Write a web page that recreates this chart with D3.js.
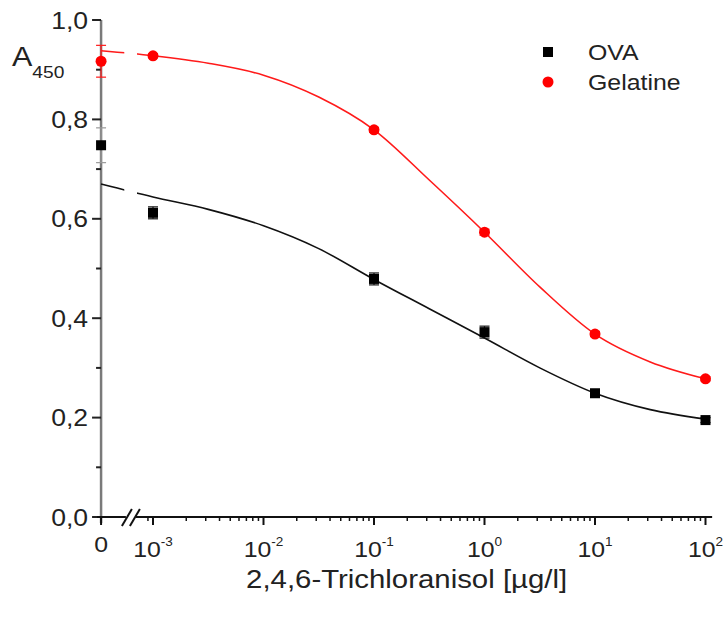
<!DOCTYPE html>
<html><head><meta charset="utf-8">
<script src="https://cdn.jsdelivr.net/npm/d3@7/dist/d3.min.js"></script>
<style>body{margin:0;background:#fff}svg{display:block}text{font-family:"Liberation Sans",Arial,sans-serif;fill:#222}</style>
</head><body><svg id="c" width="726" height="617"></svg>
<script>
// ---- data ----
const concentrations = [0, 1e-3, 1e-1, 1, 10, 100];
const ovaValues = [0.748, 0.612, 0.479, 0.372, 0.249, 0.195];
const ovaErrors = [0.035, 0.012, 0.012, 0.012, 0.005, 0.005];
const gelValues = [0.917, 0.928, 0.779, 0.573, 0.368, 0.278];
const gelErrors = [0.032, 0.004, 0.005, 0.006, 0.005, 0.004];
// fitted curves: [log10 concentration, A450]
const ovaFit = [[-3.47,0.670],[-3,0.644],[-2.5,0.619],[-2,0.586],[-1.5,0.540],[-1,0.478],[-0.5,0.419],[0,0.360],[0.5,0.300],[1,0.249],[1.5,0.216],[2,0.197]];
const gelFit = [[-3.47,0.938],[-3,0.928],[-2.5,0.913],[-2,0.889],[-1.5,0.845],[-1,0.779],[-0.5,0.678],[0,0.573],[0.5,0.463],[1,0.368],[1.5,0.312],[2,0.278]];
const xTickExponents = [-3, -2, -1, 0, 1, 2];
const yTicks = [0, 0.2, 0.4, 0.6, 0.8, 1.0];
const yMinorTicks = [0.1, 0.3, 0.5, 0.7, 0.9];
const seriesNames = ["OVA", "Gelatine"];

const zeroLog = -3.47, breakLog = -3.2, endLog = 2.06, gapLo = -3.26, gapHi = -3.145;
const SX = 1.13; // glyphs in the reference are slightly wide

const svg = d3.select("#c");
const x = d3.scaleLog().domain([1e-3, 1e2]).range([153, 705.5]);
const y = d3.scaleLinear().domain([0, 1]).range([517, 20]);
const xp = v => v === 0 ? x(Math.pow(10, zeroLog)) : x(v);
const x0 = xp(0), xEnd = x(Math.pow(10, endLog));

function label(px, py, size, anchor) {
  return svg.append("g").attr("transform", `translate(${px},${py}) scale(${SX},1)`)
    .append("text").attr("text-anchor", anchor || "start").attr("font-size", size);
}

// y axis
svg.append("line").attr("x1", x0).attr("x2", x0).attr("y1", y(1)).attr("y2", y(0) + 6)
  .attr("stroke", "#7a7a7a").attr("stroke-width", 2.5);
yTicks.forEach(t => {
  svg.append("line").attr("x1", x0 - 9).attr("x2", x0).attr("y1", y(t)).attr("y2", y(t)).attr("stroke", "#222").attr("stroke-width", 2);
  label(x0 - 13, y(t) + 8.5, 23.5, "end").text(d3.format(".1f")(t).replace(".", ","));
});
yMinorTicks.forEach(t => {
  svg.append("line").attr("x1", x0 - 5).attr("x2", x0).attr("y1", y(t)).attr("y2", y(t)).attr("stroke", "#222").attr("stroke-width", 2);
});

// x axis
svg.append("line").attr("x1", x0 - 4).attr("x2", xEnd).attr("y1", y(0)).attr("y2", y(0))
  .attr("stroke", "#111").attr("stroke-width", 2);
svg.append("line").attr("x1", x0).attr("x2", x0).attr("y1", y(0)).attr("y2", y(0) + 8).attr("stroke", "#111").attr("stroke-width", 2);
label(x0, y(0) + 35, 22, "middle").text("0");
const minor = [9e-4];
for (let e = -3; e < 2; e++) for (let m = 2; m <= 9; m++) minor.push(m * Math.pow(10, e));
minor.forEach(v => {
  svg.append("line").attr("x1", x(v)).attr("x2", x(v)).attr("y1", y(0)).attr("y2", y(0) + 4).attr("stroke", "#111").attr("stroke-width", 1.5);
});
xTickExponents.forEach(e => {
  const v = Math.pow(10, e);
  svg.append("line").attr("x1", x(v)).attr("x2", x(v)).attr("y1", y(0)).attr("y2", y(0) + 8).attr("stroke", "#111").attr("stroke-width", 2);
  const t = label(x(v), y(0) + 40, 22, "middle");
  t.append("tspan").text("10");
  t.append("tspan").attr("font-size", 12).attr("dy", -11).text(String(e));
});
// axis break
const xb = x(Math.pow(10, breakLog));
svg.append("rect").attr("x", xb - 5).attr("y", y(0) - 3).attr("width", 10).attr("height", 6).attr("fill", "#fff");
[-4, 4].forEach(d => {
  svg.append("line").attr("x1", xb + d - 5).attr("x2", xb + d + 5).attr("y1", y(0) + 9).attr("y2", y(0) - 8)
    .attr("stroke", "#111").attr("stroke-width", 2);
});

// axis titles
const at = label(12, 66, 27);
at.append("tspan").text("A");
at.append("tspan").attr("font-size", 17).attr("dy", 12).text("450");
label((x0 + xEnd) / 2, 588, 26, "middle").text("2,4,6-Trichloranisol [µg/l]");

// fit curves (with gap at the axis break)
const clip = svg.append("defs").append("clipPath").attr("id", "gap");
clip.append("rect").attr("x", 0).attr("y", 0).attr("width", x(Math.pow(10, gapLo))).attr("height", 617);
clip.append("rect").attr("x", x(Math.pow(10, gapHi))).attr("y", 0).attr("width", 726).attr("height", 617);
const fits = svg.append("g").attr("clip-path", "url(#gap)");
[[ovaFit, "#111"], [gelFit, "#ff1a1a"]].forEach(([pts, c]) => {
  const line = d3.line().x(d => x(Math.pow(10, d[0]))).y(d => y(d[1])).curve(d3.curveMonotoneX);
  fits.append("path").attr("d", line(pts)).attr("fill", "none").attr("stroke", c).attr("stroke-width", 1.6);
});

// error bars + markers
function errorBars(vals, errs, color) {
  concentrations.forEach((c, i) => {
    const cx = xp(c), col = (i === 0 && color === "#111") ? "#999" : color;
    svg.append("line").attr("x1", cx).attr("x2", cx).attr("y1", y(vals[i] + errs[i])).attr("y2", y(vals[i] - errs[i])).attr("stroke", col).attr("stroke-width", 1.2);
    [errs[i], -errs[i]].forEach(e => svg.append("line").attr("x1", cx - 5).attr("x2", cx + 5).attr("y1", y(vals[i] + e)).attr("y2", y(vals[i] + e)).attr("stroke", col).attr("stroke-width", 1.2));
  });
}
errorBars(ovaValues, ovaErrors, "#111");
errorBars(gelValues, gelErrors, "#ff1a1a");
concentrations.forEach((c, i) => {
  svg.append("rect").attr("x", xp(c) - 5).attr("y", y(ovaValues[i]) - 5).attr("width", 10).attr("height", 10).attr("fill", "#000");
  svg.append("circle").attr("cx", xp(c)).attr("cy", y(gelValues[i])).attr("r", 5.5).attr("fill", "#ff0000");
});

// legend
svg.append("rect").attr("x", 543).attr("y", 47).attr("width", 10).attr("height", 10).attr("fill", "#000");
svg.append("circle").attr("cx", 548).attr("cy", 82).attr("r", 5.5).attr("fill", "#ff0000");
label(588, 60, 22).text(seriesNames[0]);
label(588, 90, 22).text(seriesNames[1]);
</script></body></html>
